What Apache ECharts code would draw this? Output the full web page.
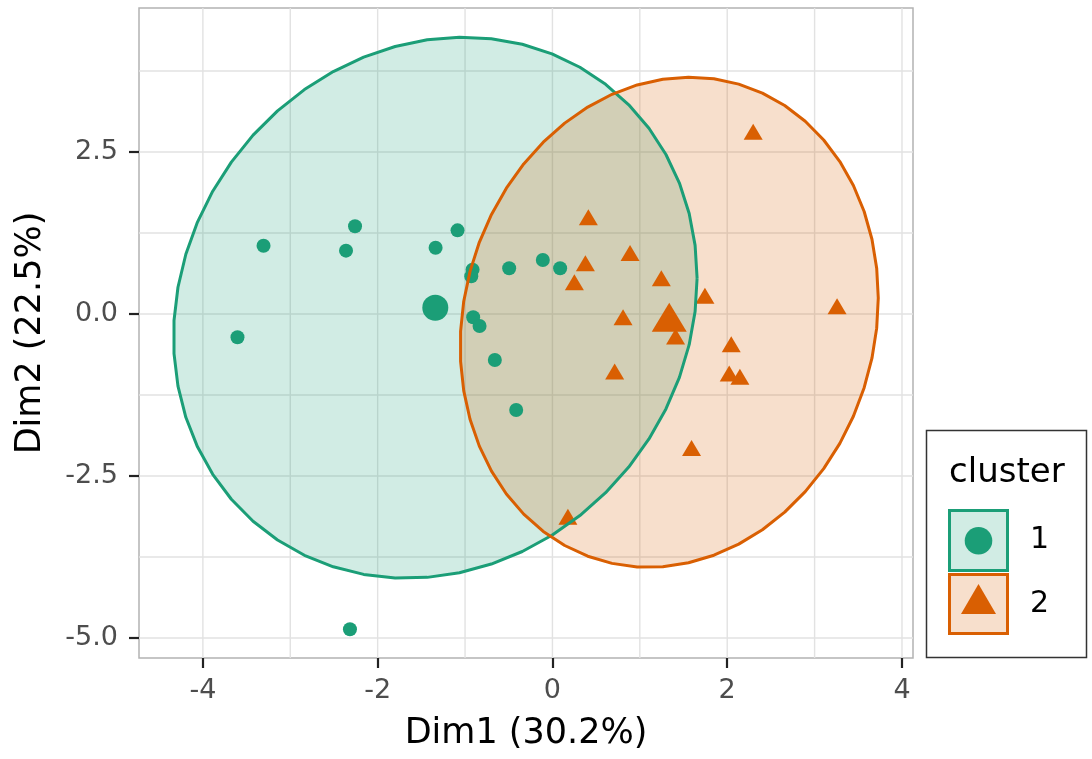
<!DOCTYPE html>
<html><head><meta charset="utf-8">
<script src="https://cdn.jsdelivr.net/npm/echarts@6/dist/echarts.min.js"></script>
<style>html,body{margin:0;padding:0;background:#fff}#c{width:1092px;height:759px}</style>
</head><body><div id="c"></div>
<script>
// ---- data ----
const clusterNames = ['1', '2'];
const cluster1X = [-3.306, -2.259, -2.362, -1.337, -1.086, -0.914, -0.929, -0.495, -0.110, 0.088, -3.604, -0.907, -0.834, -0.659, -0.415, -2.317];
const cluster1Y = [1.054, 1.353, 0.977, 1.023, 1.291, 0.684, 0.582, 0.705, 0.833, 0.705, -0.360, -0.051, -0.185, -0.710, -1.481, -4.866];
const cluster2X = [0.411, 0.888, 0.377, 0.251, 1.246, 1.745, 3.257, 0.808, 1.409, 2.046, 0.712, 2.023, 2.145, 1.592, 2.297, 0.177];
const cluster2Y = [1.45, 0.90, 0.74, 0.45, 0.51, 0.24, 0.08, -0.09, -0.39, -0.51, -0.93, -0.96, -1.01, -2.11, 2.77, -3.17];
const xTicks = [-4, -2, 0, 2, 4];
const xMinor = [-3, -1, 1, 3];
const yTicks = [-5, -2.5, 0, 2.5];
const yMinor = [-3.75, -1.25, 1.25, 3.75];
const xRange = [-4.731, 4.126];
const yRange = [-5.309, 4.722];
const xTitle = 'Dim1 (30.2%)';
const yTitle = 'Dim2 (22.5%)';
const legendTitle = 'cluster';
const ellipseLevel = 0.95;

// ---- styles ----
const FONT = '"DejaVu Sans", sans-serif';
const colors = ['#1B9E77', '#D95F02'];
const fills = ['rgba(27,158,119,0.2)', 'rgba(217,95,2,0.2)'];

function mean(a) { return a.reduce((s, v) => s + v, 0) / a.length; }
function pairs(xs, ys) { return xs.map((x, i) => [x, ys[i]]); }
// normal-theory data ellipse (as ggplot2 stat_ellipse type "norm")
function dataEllipse(xs, ys, level, segments) {
  const n = xs.length, mx = mean(xs), my = mean(ys);
  let sxx = 0, syy = 0, sxy = 0;
  for (let i = 0; i < n; i++) {
    const dx = xs[i] - mx, dy = ys[i] - my;
    sxx += dx * dx; syy += dy * dy; sxy += dx * dy;
  }
  sxx /= (n - 1); syy /= (n - 1); sxy /= (n - 1);
  const dfd = n - 1;
  const fq = (dfd / 2) * (Math.pow(1 - level, -2 / dfd) - 1);
  const r = Math.sqrt(2 * fq);
  const a = Math.sqrt(sxx), b = sxy / a, c = Math.sqrt(syy - b * b);
  const pts = [];
  for (let k = 0; k <= segments; k++) {
    const t = 2 * Math.PI * k / segments;
    const u = Math.cos(t), v = Math.sin(t);
    pts.push([mx + r * u * a, my + r * (u * b + v * c)]);
  }
  return pts;
}
const ell1 = dataEllipse(cluster1X, cluster1Y, ellipseLevel, 51);
const ell2 = dataEllipse(cluster2X, cluster2Y, ellipseLevel, 51);
const cent1 = [mean(cluster1X), mean(cluster1Y)];
const cent2 = [mean(cluster2X), mean(cluster2Y)];

function ellipseFill(pts, idx) {
  return {
    type: 'custom', silent: true, data: [pts[0]],
    renderItem: function (params, api) {
      return { type: 'polygon', shape: { points: pts.map(p => api.coord(p)) }, style: { fill: fills[idx] } };
    }
  };
}
function ellipseLine(pts, idx) {
  return {
    type: 'line', data: pts, showSymbol: false, symbol: 'none', silent: true, smooth: false,
    lineStyle: { color: colors[idx], width: 3, join: 'round' }, itemStyle: { color: colors[idx] }
  };
}
const gridLineStyle = { stroke: '#E2E2E2', lineWidth: 1.4 };
const chart = echarts.init(document.getElementById('c'), null, { renderer: 'canvas' });
chart.setOption({
  animation: false,
  backgroundColor: '#fff',
  grid: { left: 139, right: 179, top: 8, bottom: 101, show: true, borderColor: '#B3B3B3', borderWidth: 1.5, backgroundColor: 'transparent', outerBoundsMode: 'none' },
  xAxis: {
    type: 'value', min: xRange[0], max: xRange[1],
    axisLine: { show: false, onZero: false }, splitLine: { show: false },
    axisTick: { show: true, customValues: xTicks, length: 10, lineStyle: { color: '#222', width: 2.2 } },
    axisLabel: { customValues: xTicks, color: '#4D4D4D', fontSize: 27, fontFamily: FONT, margin: 19, showMinLabel: true, showMaxLabel: true },
    name: xTitle, nameLocation: 'middle', nameGap: 58,
    nameTextStyle: { fontSize: 35, color: '#000', fontFamily: FONT }
  },
  yAxis: {
    type: 'value', min: yRange[0], max: yRange[1],
    axisLine: { show: false, onZero: false }, splitLine: { show: false },
    axisTick: { show: true, customValues: yTicks, length: 10, lineStyle: { color: '#222', width: 2.2 } },
    axisLabel: { customValues: yTicks, color: '#4D4D4D', fontSize: 27, fontFamily: FONT, margin: 21, formatter: v => Number(v).toFixed(1), showMinLabel: true, showMaxLabel: true },
    name: yTitle, nameLocation: 'middle', nameGap: 91,
    nameTextStyle: { fontSize: 35, color: '#000', fontFamily: FONT }
  },
  series: [
    { // vertical grid lines
      type: 'custom', silent: true, z: 1,
      data: xTicks.concat(xMinor).map(v => [v, 0]),
      renderItem: function (params, api) {
        const p1 = api.coord([api.value(0), yRange[0]]), p2 = api.coord([api.value(0), yRange[1]]);
        return { type: 'line', shape: { x1: p1[0], y1: p1[1], x2: p2[0], y2: p2[1] }, style: gridLineStyle };
      }
    },
    { // horizontal grid lines
      type: 'custom', silent: true, z: 1,
      data: yTicks.concat(yMinor).map(v => [0, v]),
      renderItem: function (params, api) {
        const p1 = api.coord([xRange[0], api.value(1)]), p2 = api.coord([xRange[1], api.value(1)]);
        return { type: 'line', shape: { x1: p1[0], y1: p1[1], x2: p2[0], y2: p2[1] }, style: gridLineStyle };
      }
    },
    { name: clusterNames[0], type: 'scatter', data: pairs(cluster1X, cluster1Y), symbol: 'circle', symbolSize: 14, itemStyle: { color: colors[0], opacity: 1 }, silent: true },
    { name: clusterNames[1], type: 'scatter', data: pairs(cluster2X, cluster2Y), symbol: 'triangle', symbolSize: [19, 16], symbolOffset: [0, '-16.67%'], itemStyle: { color: colors[1], opacity: 1 }, silent: true },
    ellipseFill(ell1, 0),
    ellipseLine(ell1, 0),
    ellipseFill(ell2, 1),
    ellipseLine(ell2, 1),
    { type: 'scatter', data: [cent1], symbol: 'circle', symbolSize: 26, itemStyle: { color: colors[0], opacity: 1 }, silent: true },
    { type: 'scatter', data: [cent2], symbol: 'triangle', symbolSize: [35, 29], symbolOffset: [0, '-16.67%'], itemStyle: { color: colors[1], opacity: 1 }, silent: true }
  ],
  graphic: [
    { type: 'rect', shape: { x: 926.5, y: 430.5, width: 160, height: 227 }, style: { fill: '#fff', stroke: '#333', lineWidth: 1.5 } },
    { type: 'text', x: 949, y: 473, style: { text: legendTitle, font: '34px ' + FONT, fill: '#000', align: 'left', verticalAlign: 'middle' } },
    { type: 'rect', shape: { x: 949.5, y: 510.5, width: 58, height: 60 }, style: { fill: fills[0], stroke: colors[0], lineWidth: 3 } },
    { type: 'circle', shape: { cx: 978.5, cy: 540.7, r: 13.8 }, style: { fill: colors[0] } },
    { type: 'rect', shape: { x: 949.5, y: 574.5, width: 58, height: 59 }, style: { fill: fills[1], stroke: colors[1], lineWidth: 3 } },
    { type: 'polygon', shape: { points: [[978.5, 584], [996, 614], [961, 614]] }, style: { fill: colors[1] } },
    { type: 'text', x: 1030, y: 540.5, style: { text: clusterNames[0], font: '30px ' + FONT, fill: '#000', align: 'left', verticalAlign: 'middle' } },
    { type: 'text', x: 1030, y: 604, style: { text: clusterNames[1], font: '30px ' + FONT, fill: '#000', align: 'left', verticalAlign: 'middle' } }
  ]
});
</script>
</body></html>
